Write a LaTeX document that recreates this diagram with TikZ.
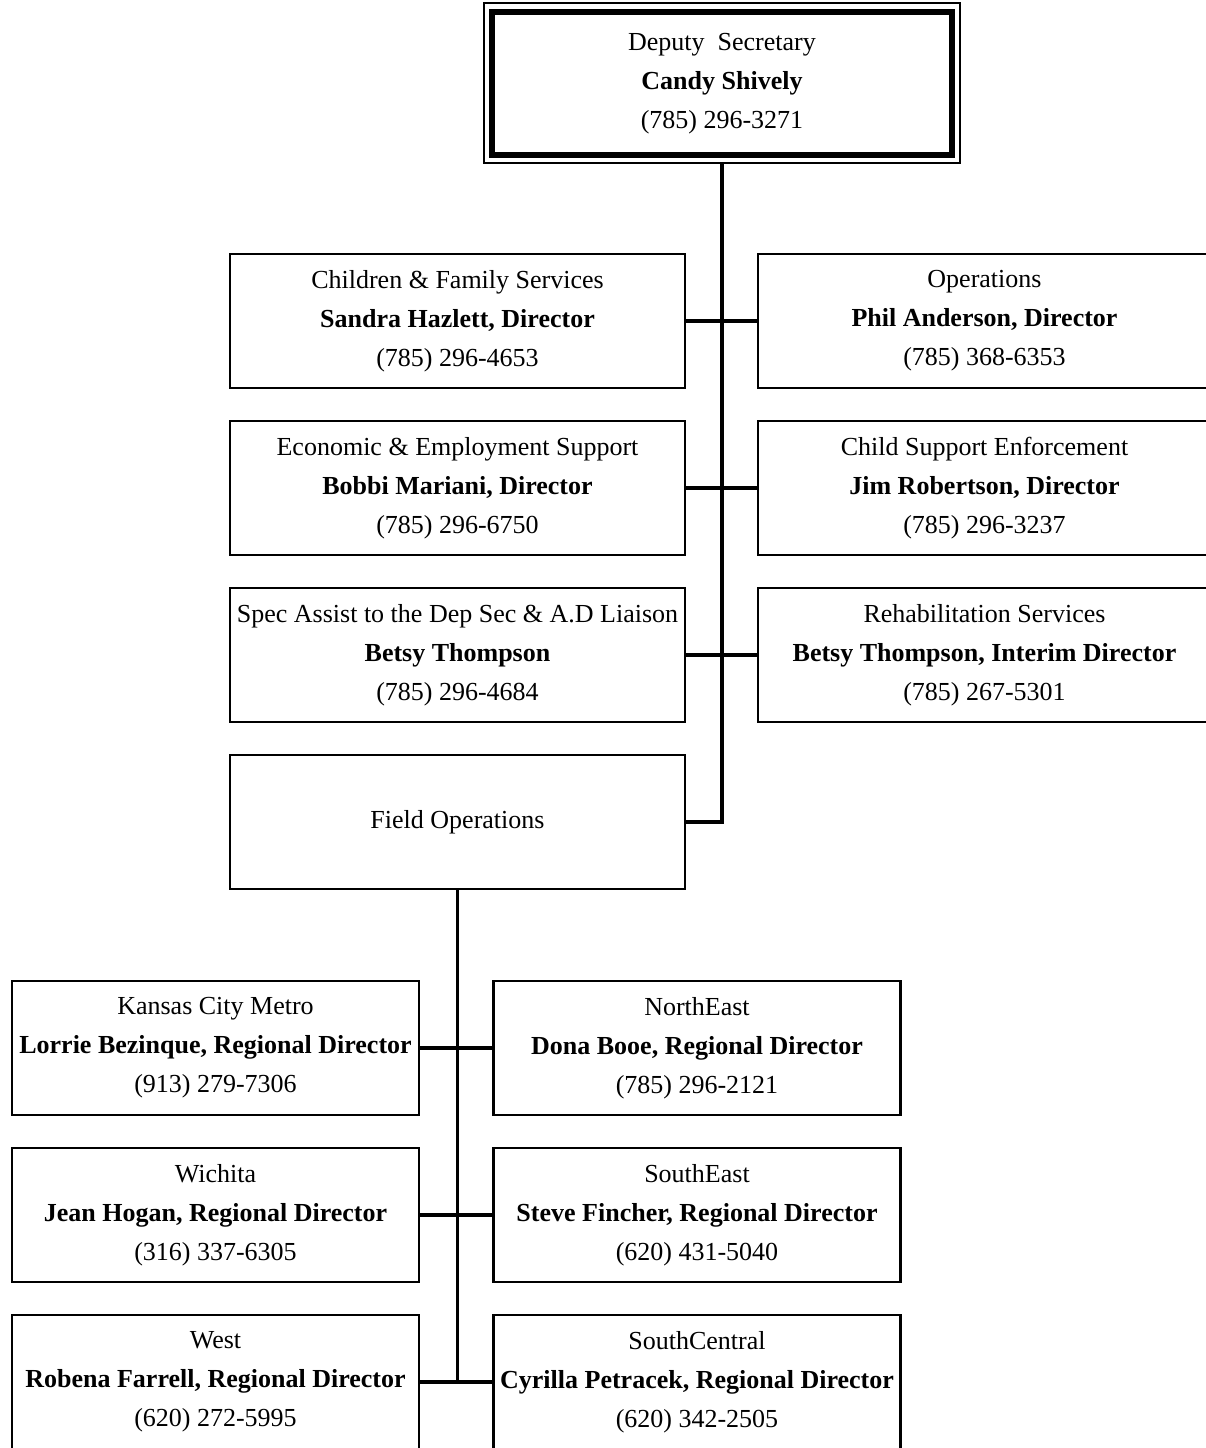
\documentclass[tikz,border=0pt]{standalone}
\usepackage{fontspec}
\setmainfont{Liberation Serif}
\begin{document}
\begin{tikzpicture}[x=1pt,y=-1pt,
  box/.style={draw=black,line width=2.6pt,fill=white,align=center,inner sep=0pt,
    font=\fontsize{26}{39}\selectfont},
  lbox/.style={box,minimum width=455pt,minimum height=134pt},
  rbox/.style={box,minimum width=453pt,minimum height=134pt},
  bbox/.style={box,minimum width=407pt,minimum height=134pt},
  conn/.style={line width=3.8pt}]
\clip (0,0) rectangle (1206,1448);
\fill[white] (0,0) rectangle (1206,1448);
% top box
\node[draw=black,line width=2pt,minimum width=476pt,minimum height=160pt,inner sep=0pt] (top) at (722,83) {};
\node[box,line width=6.5pt,minimum width=460pt,minimum height=143pt] (topin) at (722,83.5)
  {Deputy\ \ Secretary\\ \textbf{Candy Shively}\\ (785) 296-3271};
% left column
\node[lbox] (cfs) at (457.5,321) {Children \& Family Services\\ \textbf{Sandra Hazlett, Director}\\ (785) 296-4653};
\node[lbox] (ees) at (457.5,488) {Economic \& Employment Support\\ \textbf{Bobbi Mariani, Director}\\ (785) 296-6750};
\node[lbox] (sad) at (457.5,655) {Spec Assist to the Dep Sec \& A.D Liaison\\ \textbf{Betsy Thompson}\\ (785) 296-4684};
\node[lbox] (fo) at (457.5,822) {Field Operations};
% right column
\node[rbox] (ops) at (984.5,321) {Operations\\ \textbf{Phil Anderson, Director}\\ (785) 368-6353};
\node[rbox] (cse) at (984.5,488) {Child Support Enforcement\\ \textbf{Jim Robertson, Director}\\ (785) 296-3237};
\node[rbox] (rs) at (984.5,655) {Rehabilitation Services\\ \textbf{Betsy Thompson, Interim Director}\\ (785) 267-5301};
% regions
\node[bbox] (kc) at (215.5,1048) {Kansas City Metro\\ \textbf{Lorrie Bezinque, Regional Director}\\ (913) 279-7306};
\node[bbox] (wi) at (215.5,1215) {Wichita\\ \textbf{Jean Hogan, Regional Director}\\ (316) 337-6305};
\node[bbox] (we) at (215.5,1382) {West\\ \textbf{Robena Farrell, Regional Director}\\ (620) 272-5995};
\node[bbox] (ne) at (697,1048) {NorthEast\\ \textbf{Dona Booe, Regional Director}\\ (785) 296-2121};
\node[bbox] (se) at (697,1215) {SouthEast\\ \textbf{Steve Fincher, Regional Director}\\ (620) 431-5040};
\node[bbox] (sc) at (697,1382) {SouthCentral\\ \textbf{Cyrilla Petracek, Regional Director}\\ (620) 342-2505};
% connectors
\draw[conn] (top.south) |- (fo.east);
\draw[conn] (cfs.east) -- (ops.west);
\draw[conn] (ees.east) -- (cse.west);
\draw[conn] (sad.east) -- (rs.west);
\draw[conn] (fo.south) -- (fo.south |- we.east);
\draw[conn] (kc.east) -- (ne.west);
\draw[conn] (wi.east) -- (se.west);
\draw[conn] (we.east) -- (sc.west);
\end{tikzpicture}
\end{document}
